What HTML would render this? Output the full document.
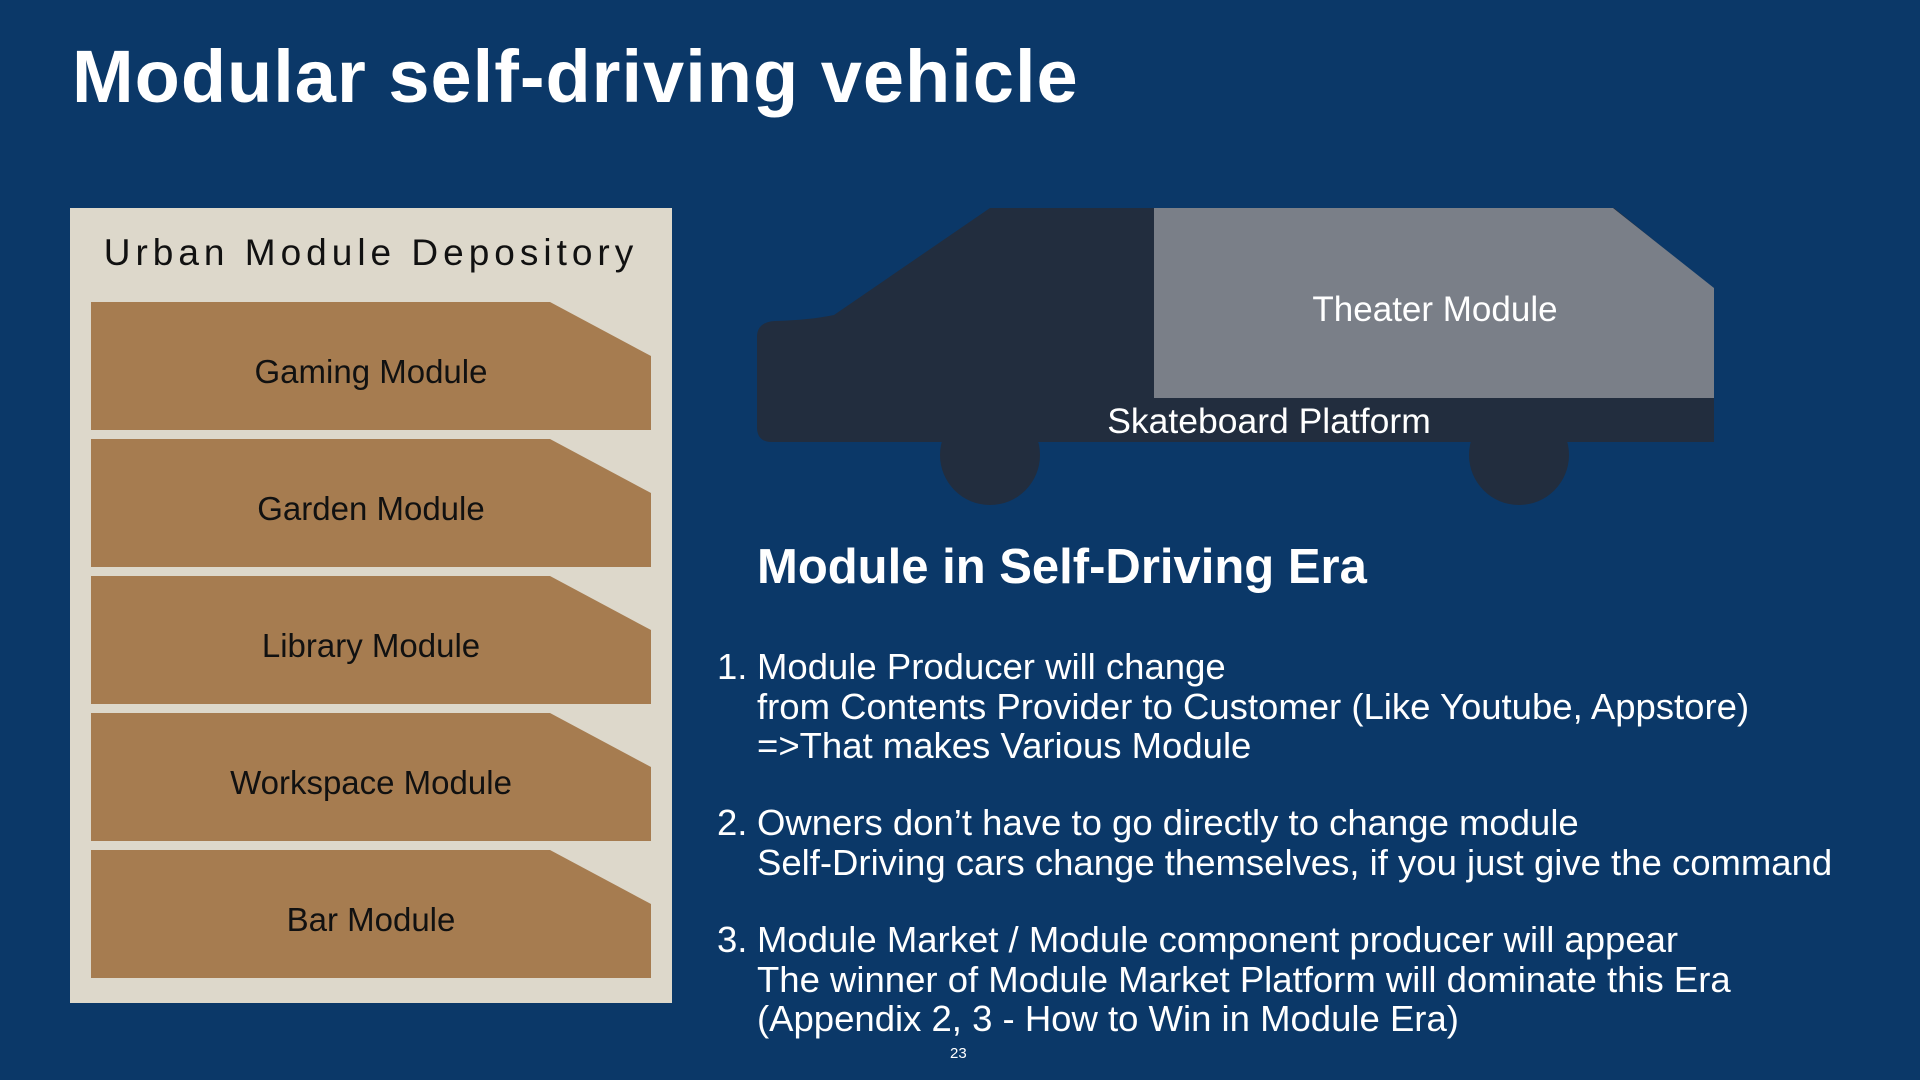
<!DOCTYPE html>
<html><head><meta charset="utf-8"><style>
body{margin:0;width:1920px;height:1080px;background:#0b3868;position:relative;overflow:hidden;font-family:"Liberation Sans",sans-serif;}
.t{position:absolute;white-space:nowrap;}
.mod{position:absolute;left:91px;width:560px;height:128px;box-sizing:border-box;padding-top:12px;background:#a67c50;clip-path:polygon(0 0,459px 0,560px 54px,560px 128px,0 128px);color:#111;font-size:33px;display:flex;align-items:center;justify-content:center;}
.li{position:absolute;left:757px;color:#fff;font-size:36.5px;line-height:39.5px;white-space:nowrap;}
.li b{position:absolute;left:-40px;font-weight:normal;}
</style></head><body>
<div class="t" style="left:72px;top:34px;font-size:74px;font-weight:bold;color:#fff;letter-spacing:1px;">Modular self-driving vehicle</div>
<div style="position:absolute;left:70px;top:208px;width:602px;height:795px;background:#ddd8cb;"></div>
<div class="t" style="left:70px;width:602px;text-align:center;top:232px;font-size:37px;letter-spacing:5px;color:#111;">Urban Module Depository</div>
<div class="mod" style="top:302px">Gaming Module</div>
<div class="mod" style="top:439px">Garden Module</div>
<div class="mod" style="top:576px">Library Module</div>
<div class="mod" style="top:713px">Workspace Module</div>
<div class="mod" style="top:850px">Bar Module</div>
<svg style="position:absolute;left:0;top:0" width="1920" height="1080">
<circle cx="990" cy="455" r="50" fill="#222d3e"/>
<circle cx="1519" cy="455" r="50" fill="#222d3e"/>
<path d="M990 208 L1614 208 L1714 289 L1714 442 L772 442 Q757 442 757 427 L757 337 Q757 322 775 321 Q810 320 834 315 Z" fill="#222d3e"/>
<path d="M1154 208 L1613 208 L1714 288 L1714 398 L1154 398 Z" fill="#7a7f88"/>
<text x="1435" y="321" fill="#fff" font-size="35" text-anchor="middle" font-family="Liberation Sans">Theater Module</text>
<text x="1269" y="433" fill="#fff" font-size="35.5" text-anchor="middle" font-family="Liberation Sans">Skateboard Platform</text>
</svg>
<div class="t" style="left:757px;top:539px;font-size:49px;font-weight:bold;color:#fff;">Module in Self-Driving Era</div>
<div class="li" style="top:647px"><b>1.</b>Module Producer will change<br>from Contents Provider to Customer (Like Youtube, Appstore)<br>=&gt;That makes Various Module</div>
<div class="li" style="top:803px"><b>2.</b>Owners don’t have to go directly to change module<br>Self-Driving cars change themselves, if you just give the command</div>
<div class="li" style="top:920px"><b>3.</b>Module Market / Module component producer will appear<br>The winner of Module Market Platform will dominate this Era<br>(Appendix 2, 3 - How to Win in Module Era)</div>
<div class="t" style="left:950px;top:1045px;font-size:15px;color:#fff;">23</div>
</body></html>
